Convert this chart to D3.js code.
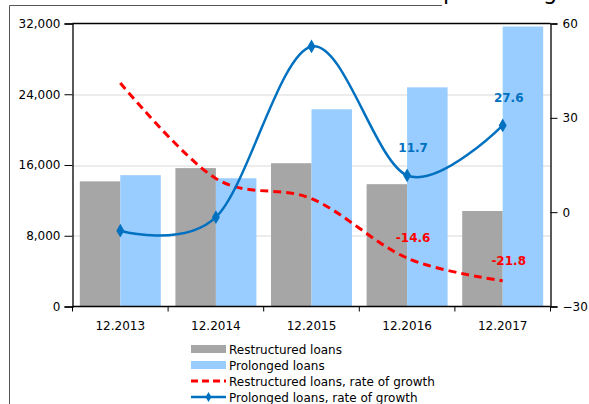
<!DOCTYPE html>
<html>
<head>
<meta charset="utf-8">
<script src="https://cdn.jsdelivr.net/npm/d3@7"></script>
<style>
    body { margin: 0; background: #fff; }
    #visual { width: 589px; height: 404px; overflow: hidden; }
    text { font-family: "DejaVu Sans", Verdana, sans-serif; }
</style>
</head>
<body>
<div id="visual"></div>
<script>
var years = ['12.2013', '12.2014', '12.2015', '12.2016', '12.2017'];
var restructured = [14150, 15650, 16200, 13830, 10800];
var prolonged = [14850, 14500, 22300, 24780, 31660];
var restructuredGrowth = [41.1, 10.7, 4.3, -14.6, -21.8];
var prolongedGrowth = [-5.9, -1.6, 52.7, 11.7, 27.6];
var leftTicks = [0, 8000, 16000, 24000, 32000];
var rightTicks = [-30, 0, 30, 60];
var seriesNames = ['Restructured loans', 'Prolonged loans',
    'Restructured loans, rate of growth', 'Prolonged loans, rate of growth'];

var width = 589, height = 404;
var margin = { top: 23.5, bottom: 97.5, left: 72.5, right: 38.5 };
var w = width - margin.left - margin.right;
var h = height - margin.top - margin.bottom;

var grey = '#a6a6a6', lightBlue = '#99ccff', red = '#ff0000', blue = '#0070c0';

var svg = d3.select('#visual').append('svg')
    .attr('width', width)
    .attr('height', height);

// outer frame and the title, cut off by the top edge
svg.append('path')
    .attr('d', 'M9.5,404V5.5H442')
    .attr('fill', 'none')
    .attr('stroke', '#555')
    .attr('stroke-width', 1);
svg.append('text')
    .attr('x', 443).attr('y', -1.5)
    .attr('font-size', '22.5px')
    .attr('fill', '#000')
    .text('percentages');

var g = svg.append('g')
    .attr('transform', 'translate(' + margin.left + ',' + margin.top + ')');

var x_scale = d3.scaleBand().domain(years).range([0, w])
    .paddingInner(0.153).paddingOuter(0.0765);
var x_sub = d3.scaleBand().domain([0, 1]).range([0, x_scale.bandwidth()]);
var y_left = d3.scaleLinear().domain([0, 32000]).range([h, 0]);
var y_right = d3.scaleLinear().domain([-30, 60]).range([h, 0]);

// gridlines
g.selectAll('.grid').data(leftTicks.slice(1, 4)).enter().append('line')
    .attr('x1', 0).attr('x2', w)
    .attr('y1', function (d) { return Math.round(y_left(d)) + 0.5; })
    .attr('y2', function (d) { return Math.round(y_left(d)) + 0.5; })
    .attr('stroke', '#d9d9d9').attr('stroke-width', 1.2);

// bars
var barData = [];
years.forEach(function (y, i) {
    barData.push({ year: y, s: 0, value: restructured[i] });
    barData.push({ year: y, s: 1, value: prolonged[i] });
});
g.selectAll('.bar').data(barData).enter().append('rect')
    .attr('class', 'bar')
    .attr('x', function (d) { return x_scale(d.year) + x_sub(d.s); })
    .attr('width', x_sub.bandwidth())
    .attr('y', function (d) { return y_left(d.value); })
    .attr('height', function (d) { return h - y_left(d.value); })
    .attr('fill', function (d) { return d.s ? lightBlue : grey; });

// axes
var axisLeft = d3.axisLeft(y_left).tickValues(leftTicks).tickSize(8).tickPadding(4)
    .tickFormat(d3.format(','));
var axisRight = d3.axisRight(y_right).tickValues(rightTicks).tickSize(7).tickPadding(5);

var gl = g.append('g').call(axisLeft);
var gr = g.append('g').attr('transform', 'translate(' + w + ',0)').call(axisRight);
[gl, gr].forEach(function (a) {
    a.select('.domain').attr('stroke', '#000').attr('stroke-width', 1.3);
    a.selectAll('.tick line').attr('stroke', '#000');
    a.selectAll('text').attr('font-size', '12px').attr('fill', '#000')
        .attr('font-family', '"DejaVu Sans", Verdana, sans-serif');
});

// top border and category axis
g.append('line').attr('x1', 0).attr('x2', w).attr('y1', 0).attr('y2', 0)
    .attr('stroke', '#000').attr('stroke-width', 1.3);
g.append('line').attr('x1', 0).attr('x2', w).attr('y1', h).attr('y2', h)
    .attr('stroke', '#000').attr('stroke-width', 1.3);
var bounds = d3.range(years.length + 1).map(function (i) { return i * x_scale.step(); });
g.selectAll('.xtick').data(bounds).enter().append('line')
    .attr('x1', function (d) { return d; }).attr('x2', function (d) { return d; })
    .attr('y1', h).attr('y2', h + 5)
    .attr('stroke', '#000');
g.selectAll('.xlabel').data(years).enter().append('text')
    .attr('x', function (d) { return x_scale(d) + x_scale.bandwidth() / 2; })
    .attr('y', h + 23)
    .attr('text-anchor', 'middle')
    .attr('font-size', '12px')
    .text(function (d) { return d; });

// growth lines
function cx(i) { return x_scale(years[i]) + x_scale.bandwidth() / 2; }
var line = d3.line()
    .x(function (d, i) { return cx(i); })
    .y(function (d) { return y_right(d); })
    .curve(d3.curveCardinal.tension(0));

g.append('path').datum(restructuredGrowth)
    .attr('d', line)
    .attr('fill', 'none')
    .attr('stroke', red).attr('stroke-width', 3)
    .attr('stroke-dasharray', '8,5');

g.append('path').datum(prolongedGrowth)
    .attr('d', line)
    .attr('fill', 'none')
    .attr('stroke', blue).attr('stroke-width', 2.5);

var diamond = d3.symbol().type(d3.symbolDiamond).size(55);
g.selectAll('.marker').data(prolongedGrowth).enter().append('path')
    .attr('d', diamond)
    .attr('transform', function (d, i) { return 'translate(' + cx(i) + ',' + y_right(d) + ')'; })
    .attr('fill', blue);

// data labels on the last two points
[3, 4].forEach(function (i) {
    g.append('text')
        .attr('x', cx(i) + 6).attr('y', y_right(prolongedGrowth[i]) - 23)
        .attr('text-anchor', 'middle')
        .attr('font-size', '12px').attr('font-weight', 'bold')
        .attr('fill', blue)
        .text(prolongedGrowth[i].toFixed(1));
    g.append('text')
        .attr('x', cx(i) + 6).attr('y', y_right(restructuredGrowth[i]) - 16)
        .attr('text-anchor', 'middle')
        .attr('font-size', '12px').attr('font-weight', 'bold')
        .attr('fill', red)
        .text(restructuredGrowth[i].toFixed(1));
});

// legend
var legend = svg.append('g').attr('transform', 'translate(191,349)');
seriesNames.forEach(function (name, i) {
    var row = legend.append('g').attr('transform', 'translate(0,' + (i * 16) + ')');
    if (i < 2) {
        row.append('rect').attr('x', 0).attr('y', -4).attr('width', 35).attr('height', 8)
            .attr('fill', i === 0 ? grey : lightBlue);
    } else if (i === 2) {
        row.append('line').attr('x1', 0).attr('x2', 35).attr('y1', 0).attr('y2', 0)
            .attr('stroke', red).attr('stroke-width', 3).attr('stroke-dasharray', '7,4');
    } else {
        row.append('line').attr('x1', 0).attr('x2', 35).attr('y1', 0).attr('y2', 0)
            .attr('stroke', blue).attr('stroke-width', 2.5);
        row.append('path').attr('d', d3.symbol().type(d3.symbolDiamond).size(30))
            .attr('transform', 'translate(17.5,0)').attr('fill', blue);
    }
    row.append('text').attr('x', 38).attr('y', 4.5)
        .attr('font-size', '12px').attr('fill', '#000')
        .text(name);
});
</script>
</body>
</html>
